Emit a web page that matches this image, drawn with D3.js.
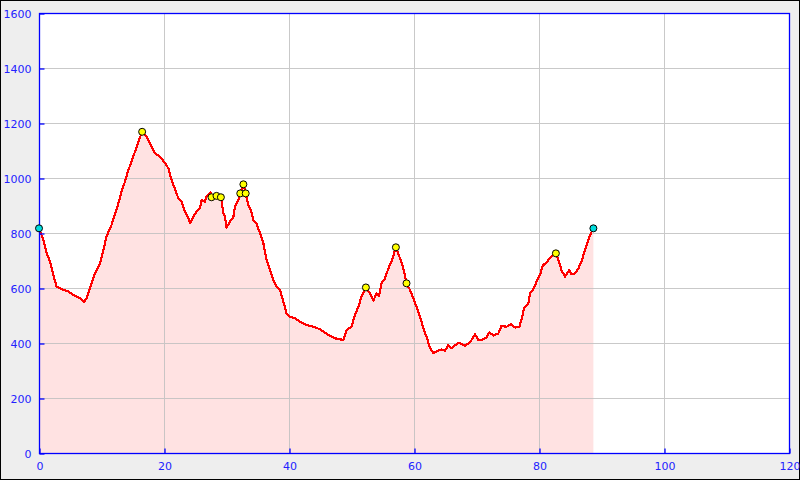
<!DOCTYPE html>
<html><head><meta charset="utf-8">
<script src="https://cdn.jsdelivr.net/npm/d3@7"></script>
<style>html,body{margin:0;padding:0;background:#fff;}svg{display:block;}</style>
</head><body>
<svg id="c" width="800" height="480"></svg>
<script>
const distances = [0,0.7,1.23,1.76,2.29,2.83,3.63,4.69,5.76,6.56,7.2,7.6,8.16,8.96,9.76,10.3,10.8,11.6,12.2,12.7,13.2,13.76,14.3,14.8,15.36,15.9,16.5,17.2,17.76,18.56,19.36,20.2,20.7,21.2,21.76,22.3,22.8,23.36,23.9,24.2,24.7,25.2,25.76,26.0,26.56,26.8,27.5,27.6,28.4,29.1,29.2,29.5,29.76,30.0,30.56,31.1,31.36,31.9,32.2,32.7,33.07,33.5,33.9,34.3,34.8,35.36,35.9,36.4,36.96,37.5,38.0,38.56,39.1,39.6,40.16,40.96,41.76,42.8,43.9,44.96,46.3,47.36,48.7,49.2,50.0,50.56,51.1,51.6,52.3,52.96,53.5,54.0,54.4,54.8,55.36,55.9,56.4,57.1,57.76,58.3,58.8,59.36,59.9,60.4,60.96,61.5,62.0,62.56,63.1,63.6,64.4,64.96,65.5,66.0,67.1,67.9,68.16,68.96,69.76,70.3,70.8,71.6,72.05,72.7,73.5,74.0,74.8,75.5,76.2,76.85,77.2,77.6,78.3,78.56,79.2,79.7,80.16,80.6,81.3,81.9,82.7,83.2,83.6,84.16,84.85,85.2,85.76,86.3,86.8,87.36,87.9,88.3,88.7];
const elevations = [817,775,726,696,647,605,596,587,571,562,550,562,599,653,690,738,787,829,871,908,950,987,1029,1059,1096,1132,1168,1150,1126,1090,1078,1053,1035,993,960,926,914,877,853,835,859,877,890,920,914,932,947,930,935,930,920,871,859,820,841,859,896,920,944,977,944,902,884,847,835,799,762,702,665,629,605,593,550,508,496,490,477,465,459,450,429,417,411,447,459,502,532,568,602,580,554,580,571,617,635,671,696,748,708,671,617,593,562,532,496,453,423,381,363,369,377,372,393,381,401,393,390,402,431,411,411,419,439,427,435,462,459,468,456,459,484,526,544,581,599,629,647,681,696,714,726,696,665,641,665,650,653,671,696,738,775,799,817];
const waypointDist = [16.5,27.6,28.4,29.1,32.2,32.7,33.07,52.3,57.1,58.8,82.7];
const waypointElev = [1168,930,935,930,944,977,944,602,748,617,726];
const endpointDist = [0,88.7];
const endpointElev = [817,817];
const xTicks = [0,20,40,60,80,100,120];
const yTicks = [0,200,400,600,800,1000,1200,1400,1600];

const svg = d3.select('#c');
const W=800,H=480;
const m={l:39,t:13,r:789,b:453};
svg.append('rect').attr('x',0.5).attr('y',0.5).attr('width',W-1).attr('height',H-1).attr('fill','#eeeeee').attr('stroke','#000').attr('stroke-width',1);
const x=d3.scaleLinear().domain([0,120]).range([m.l,m.r]);
const y=d3.scaleLinear().domain([0,1600]).range([m.b,m.t]);
svg.append('rect').attr('x',m.l).attr('y',m.t).attr('width',m.r-m.l).attr('height',m.b-m.t).attr('fill','#fff');

const data=distances.map((d,i)=>({d,e:elevations[i]}));
svg.append('path').datum(data).attr('fill','#ffe2e2')
  .attr('d',d3.area().x(p=>x(p.d)).y0(y(0)).y1(p=>y(p.e)));
const g=svg.append('g').attr('stroke','#c0c0c0').attr('stroke-width',1).attr('opacity',0.85);
xTicks.slice(1,-1).forEach(t=>g.append('line').attr('x1',Math.round(x(t))+0.5).attr('x2',Math.round(x(t))+0.5).attr('y1',m.t).attr('y2',m.b));
yTicks.slice(1,-1).forEach(t=>g.append('line').attr('y1',Math.round(y(t))+0.5).attr('y2',Math.round(y(t))+0.5).attr('x1',m.l).attr('x2',m.r));
svg.append('path').datum(data).attr('fill','none').attr('stroke','#ff0000').attr('stroke-width',2.2).attr('stroke-linejoin','round')
  .attr('shape-rendering','crispEdges')
  .attr('d',d3.line().x(p=>x(p.d)).y(p=>y(p.e)));
svg.append('rect').attr('x',m.l+0.5).attr('y',m.t+0.5).attr('width',m.r-m.l).attr('height',m.b-m.t).attr('fill','none').attr('stroke','#0000ff').attr('stroke-width',1.3);
const ya=svg.append('g').attr('transform',`translate(${m.l+0.5},0.5)`)
  .call(d3.axisLeft(y).tickValues(yTicks).tickSize(-5).tickPadding(8).tickFormat(d3.format('d')));
const xa=svg.append('g').attr('transform',`translate(0.5,${m.b+0.5})`)
  .call(d3.axisBottom(x).tickValues(xTicks).tickSize(-5).tickPadding(9).tickFormat(d3.format('d')));
[ya,xa].forEach(a=>{a.select('.domain').remove();a.selectAll('line').attr('stroke','#0000ff').attr('stroke-width',1.3);
  a.selectAll('text').attr('fill','#2222ff').attr('font-family','DejaVu Sans').attr('font-size',11);});
svg.selectAll('.wp').data(waypointDist).enter().append('circle').attr('cx',d=>x(d)).attr('cy',(d,i)=>y(waypointElev[i]))
  .attr('r',3.5).attr('fill','#ffff00').attr('stroke','#000').attr('stroke-width',1);
svg.selectAll('.ep').data(endpointDist).enter().append('circle').attr('cx',d=>x(d)).attr('cy',(d,i)=>y(endpointElev[i]))
  .attr('r',3.5).attr('fill','#00dddd').attr('stroke','#000').attr('stroke-width',1);
</script>
</body></html>
